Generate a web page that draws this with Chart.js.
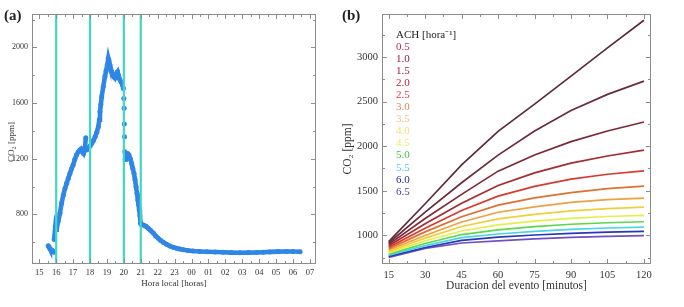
<!DOCTYPE html>
<html>
<head>
<meta charset="utf-8">
<script src="https://cdn.jsdelivr.net/npm/chart.js@4.4.1/dist/chart.umd.min.js"></script>
<style>
  body { margin: 0; background: #fff; width: 684px; height: 307px; overflow: hidden; position: relative; font-family: "Liberation Serif", serif; color: #333; }
  canvas { position: absolute; top: 0; }
  #ca { left: 0; }
  #cb { left: 340px; }
  .panel { position: absolute; font-size: 15px; font-weight: bold; color: #222; }
  .ytit { position: absolute; transform: translate(-50%, -50%) rotate(-90deg); white-space: nowrap; color: #333; }
  #leyenda { position: absolute; left: 396px; top: 27.5px; font-size: 11px; line-height: 12.1px; }
</style>
</head>
<body>
<canvas id="ca" width="340" height="307"></canvas>
<canvas id="cb" width="344" height="307"></canvas>
<div class="panel" style="left:4px;top:7px">(a)</div>
<div class="panel" style="left:342px;top:7px">(b)</div>
<div class="ytit" style="left:10.5px;top:142px;font-size:9px">CO₂ [ppm]</div>
<div class="ytit" style="left:347px;top:149px;font-size:11.5px">CO₂ [ppm]</div>
<div id="leyenda"><div style="color:#222">ACH [hora⁻¹]</div></div>
<script>
// (a) CO2 medido, hora local (horas > 24 = dia siguiente)
const horaLocal = [
  15.53, 15.58, 15.63, 15.70, 15.78, 15.86, 15.88, 15.95, 16.00, 16.03,
  16.12, 16.22, 16.32, 16.42, 16.52, 16.62, 16.72, 16.81, 16.90, 17.00,
  17.10, 17.20, 17.30, 17.40, 17.47, 17.55, 17.62, 17.70, 17.75, 17.80,
  17.90, 18.00, 18.10, 18.20, 18.30, 18.40, 18.49, 18.55, 18.59, 18.64,
  18.69, 18.78, 18.88, 18.95, 19.02, 19.08, 19.12, 19.18, 19.28, 19.35,
  19.41, 19.47, 19.53, 19.58, 19.63, 19.68, 19.73, 19.83, 19.92, 19.97,
  20.00, 20.02, 20.03, 20.04, 20.06, 20.08, 20.12, 20.17, 20.24, 20.30,
  20.38, 20.46, 20.53, 20.60, 20.66, 20.72, 20.78, 20.83, 20.87, 20.91,
  20.95, 20.99, 21.05, 21.15, 21.30, 21.44, 21.58, 21.74, 21.88, 22.03,
  22.18, 22.33, 22.52, 22.72, 22.92, 23.12, 23.31, 23.51, 23.80, 24.10,
  24.50, 24.90, 25.40, 25.87, 26.36, 26.86, 27.35, 27.85, 28.25, 28.63,
  29.10, 29.62, 30.00, 30.42
];
const co2Medido = [
  575, 565, 552, 545, 538, 528, 620, 712, 690, 700,
  750, 807, 880, 939, 985, 1023, 1060, 1094, 1125, 1154,
  1195, 1226, 1248, 1262, 1270, 1250, 1238, 1270, 1350, 1262,
  1275, 1290, 1310, 1330, 1357, 1390, 1429, 1480, 1537, 1590,
  1645, 1717, 1789, 1830, 1873, 1921, 1900, 1873, 1824, 1800,
  1789, 1780, 1800, 1815, 1824, 1800, 1777, 1753, 1730, 1705,
  1633, 1562, 1450, 1357, 1250, 1195, 1230, 1238, 1235, 1226,
  1200, 1166, 1130, 1094, 1050, 998, 950, 903, 870, 831,
  790, 735, 726, 723, 715, 700, 685, 665, 645, 628,
  612, 599, 585, 572, 563, 556, 550, 546, 540, 536,
  533, 531, 529, 527, 525, 524, 525, 526, 528, 530,
  532, 533, 533, 531
];
const horasEvento = [16, 18, 20, 21];
const co2TicksA = [800, 1200, 1600, 2000];

// (b) CO2 simulado segun duracion del evento y ACH
const duracion = [15, 30, 45, 60, 75, 90, 105, 120];
const duracionTicks = [15, 30, 45, 60, 75, 90, 105, 120];
const co2TicksB = [1000, 1500, 2000, 2500, 3000];
const achLabels = ['0.5', '1.0', '1.5', '2.0', '2.5', '3.0', '3.5', '4.0', '4.5', '5.0', '5.5', '6.0', '6.5'];
const co2Ach05 = [930, 1355, 1790, 2165, 2470, 2785, 3100, 3410];
const co2Ach10 = [915, 1260, 1590, 1900, 2170, 2400, 2580, 2728];
const co2Ach15 = [900, 1190, 1460, 1720, 1900, 2050, 2170, 2270];
const co2Ach20 = [885, 1130, 1360, 1560, 1700, 1810, 1890, 1955];
const co2Ach25 = [868, 1080, 1280, 1440, 1550, 1630, 1685, 1722];
const co2Ach30 = [852, 1040, 1210, 1340, 1420, 1480, 1525, 1553];
const co2Ach35 = [836, 1000, 1150, 1260, 1320, 1370, 1400, 1417];
const co2Ach40 = [820, 970, 1100, 1185, 1235, 1275, 1300, 1316];
const co2Ach45 = [805, 940, 1050, 1118, 1160, 1192, 1212, 1225];
const co2Ach50 = [790, 910, 1010, 1062, 1098, 1125, 1142, 1153];
const co2Ach55 = [778, 885, 975, 1016, 1046, 1068, 1083, 1093];
const co2Ach60 = [765, 865, 945, 980, 1005, 1024, 1037, 1045];
const co2Ach65 = [755, 855, 915, 940, 962, 979, 990, 998];
const seriesAch = [co2Ach05, co2Ach10, co2Ach15, co2Ach20, co2Ach25, co2Ach30, co2Ach35,
                   co2Ach40, co2Ach45, co2Ach50, co2Ach55, co2Ach60, co2Ach65];

const lineColors = ['#5b2b3b', '#6b2b3b', '#7d2838', '#a82a30', '#d93a2e', '#e0702e', '#f0a040',
                    '#f0cf3a', '#e5ef4a', '#5cd84a', '#48d6e6', '#2838b8', '#7050c8'];
const labelColors = ['#b03050', '#8b2040', '#a02050', '#c02040', '#e04050', '#d08858', '#f0c080',
                     '#f0e070', '#e8f060', '#40c040', '#50c8d8', '#2828a0', '#5040b0'];

Chart.defaults.font.family = '"Liberation Serif", serif';
Chart.defaults.color = '#333';
Chart.defaults.animation = false;

// marco con marcas hacia dentro en los cuatro lados
function marcas(ctx, s, a, step, len) {
  const v0 = Math.ceil(s.min / step - 1e-9) * step;
  for (let v = v0; v <= s.max + 1e-9; v += step) {
    const p = Math.round(s.getPixelForValue(v)) + 0.5;
    if (s.isHorizontal()) {
      ctx.moveTo(p, a.bottom); ctx.lineTo(p, a.bottom - len);
      ctx.moveTo(p, a.top); ctx.lineTo(p, a.top + len);
    } else {
      ctx.moveTo(a.left, p); ctx.lineTo(a.left + len, p);
      ctx.moveTo(a.right, p); ctx.lineTo(a.right - len, p);
    }
  }
}

const marco = {
  id: 'marco',
  afterDatasetsDraw(chart, args, o) {
    const { ctx, chartArea: a } = chart;
    const sx = chart.scales.x, sy = chart.scales.y;
    ctx.save();
    ctx.lineWidth = 2.2;
    ctx.strokeStyle = '#3ed8c4';
    (o.marks || []).forEach(h => {
      const px = sx.getPixelForValue(h);
      ctx.beginPath(); ctx.moveTo(px, a.top); ctx.lineTo(px, a.bottom); ctx.stroke();
    });
    ctx.lineWidth = 1;
    ctx.strokeStyle = '#8c8c8c';
    ctx.beginPath();
    marcas(ctx, sx, a, o.xStep, 5);
    marcas(ctx, sx, a, o.xStep / 2, 3);
    marcas(ctx, sy, a, o.yStep, 5);
    marcas(ctx, sy, a, o.yStep / 2, 3);
    ctx.stroke();
    ctx.strokeRect(a.left + 0.5, a.top + 0.5, a.width - 1, a.height - 1);
    ctx.restore();
  }
};

const fijarTicks = lista => s => { s.ticks = lista.map(v => ({ value: v })); };
const empinado = c => Math.abs((c.p1.parsed.y - c.p0.parsed.y) / (c.p1.parsed.x - c.p0.parsed.x)) > 1700;

const graficoA = new Chart('ca', {
  type: 'scatter',
  data: {
    datasets: [{
      data: horaLocal.map((h, i) => ({ x: h, y: co2Medido[i] })),
      showLine: true,
      borderColor: '#2f86e6',
      backgroundColor: '#2f86e6',
      borderWidth: 4.6,
      pointRadius: 2.5,
      pointBorderWidth: 0,
      segment: { borderColor: c => empinado(c) ? 'rgba(0,0,0,0)' : undefined }
    }]
  },
  options: {
    responsive: false,
    layout: { padding: { left: 0, right: 24, top: 14, bottom: 0 } },
    plugins: { legend: { display: false }, tooltip: { enabled: false },
               marco: { marks: horasEvento, xStep: 1, yStep: 400 } },
    scales: {
      x: {
        type: 'linear', min: 14.57, max: 31.36,
        grid: { display: false, drawTicks: false }, border: { display: false },
        ticks: { stepSize: 1, includeBounds: false, padding: 4, font: { size: 8.5 },
                 callback: v => String(v % 24).padStart(2, '0') },
        title: { display: true, text: 'Hora local [horas]', font: { size: 9 }, padding: { top: 0, bottom: 17.6 } },
        afterFit: s => { s.height = 43; }
      },
      y: {
        min: 443, max: 2240,
        grid: { display: false, drawTicks: false }, border: { display: false },
        afterBuildTicks: fijarTicks(co2TicksA),
        ticks: { padding: 4, font: { size: 8 }, callback: v => String(v) },
        afterFit: s => { s.width = 32; }
      }
    }
  },
  plugins: [marco]
});

const graficoB = new Chart('cb', {
  type: 'line',
  data: {
    datasets: seriesAch.map((serie, i) => ({
      label: achLabels[i],
      data: duracion.map((d, j) => ({ x: d, y: serie[j] })),
      borderColor: lineColors[i],
      borderWidth: 1.7,
      pointRadius: 0,
      tension: 0
    }))
  },
  options: {
    responsive: false,
    layout: { padding: { left: 0, right: 33, top: 14, bottom: 0 } },
    plugins: { legend: { display: false }, tooltip: { enabled: false },
               marco: { xStep: 15, yStep: 500 } },
    scales: {
      x: {
        type: 'linear', min: 12.25, max: 122.9,
        grid: { display: false, drawTicks: false }, border: { display: false },
        afterBuildTicks: fijarTicks(duracionTicks),
        ticks: { padding: 5, font: { size: 10.5 }, callback: v => String(v) },
        title: { display: true, text: 'Duracion del evento [minutos]', font: { size: 11.5 }, padding: { top: 0, bottom: 14.6 } },
        afterFit: s => { s.height = 43; }
      },
      y: {
        min: 680, max: 3480,
        grid: { display: false, drawTicks: false }, border: { display: false },
        afterBuildTicks: fijarTicks(co2TicksB),
        ticks: { padding: 4, font: { size: 10.5 }, callback: v => String(v) },
        afterFit: s => { s.width = 42; }
      }
    }
  },
  plugins: [marco]
});

const leyenda = document.getElementById('leyenda');
achLabels.forEach((t, i) => {
  const d = document.createElement('div');
  d.textContent = t;
  d.style.color = labelColors[i];
  leyenda.appendChild(d);
});
</script>
</body>
</html>
